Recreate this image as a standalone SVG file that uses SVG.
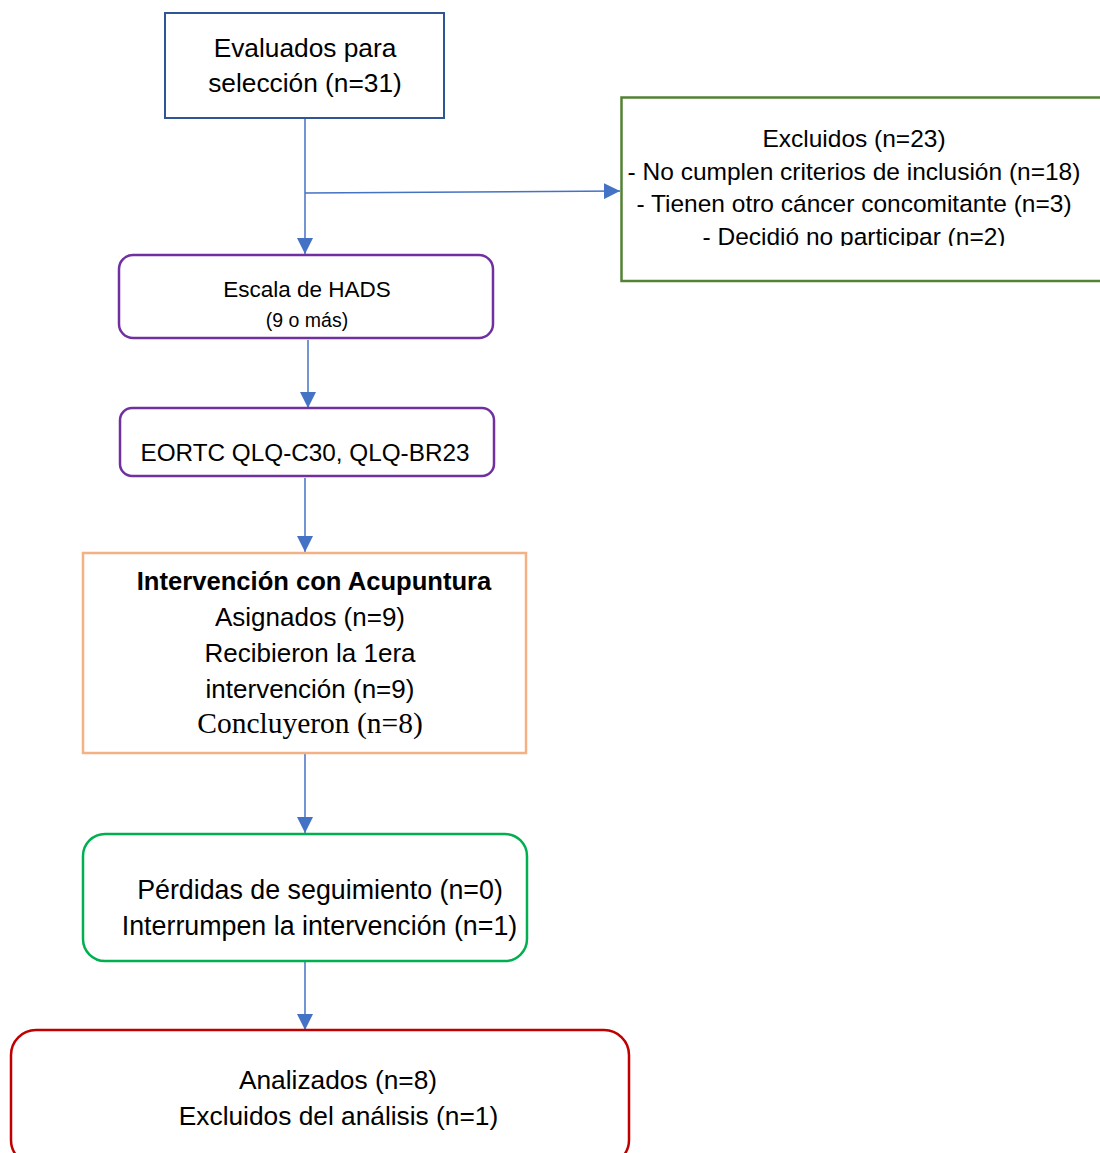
<svg xmlns="http://www.w3.org/2000/svg" width="1100" height="1153" viewBox="0 0 1100 1153">
<style>
.t{font-family:"Liberation Sans",Arial,sans-serif;fill:#000;text-anchor:middle}
.s{font-family:"Liberation Serif","Times New Roman",serif;fill:#000;text-anchor:middle}
.b{font-weight:bold}
.box{fill:#fff}
.c{stroke:#4472C4;stroke-width:1.5;fill:none;marker-end:url(#ah)}
</style>
<defs>
<marker id="ah" markerUnits="userSpaceOnUse" markerWidth="16" markerHeight="16" viewBox="0 0 16 16" refX="16" refY="8" orient="auto">
<path d="M0,0 L16,8 L0,16 Z" fill="#4472C4"/>
</marker>
<clipPath id="exclip"><rect x="600" y="90" width="500" height="156"/></clipPath>
</defs>
<rect width="1100" height="1153" fill="#fff"/>
<g id="connectors">
<path class="c" d="M305,119 L305,254"/>
<path class="c" d="M305,193 L620,191"/>
<path class="c" d="M308,340 L308,408"/>
<path class="c" d="M305,478 L305,552"/>
<path class="c" d="M305,754 L305,833"/>
<path class="c" d="M305,962 L305,1030"/>
</g>
<g id="n1">
<rect class="box" x="165" y="13" width="279" height="105" stroke="#2F5597" stroke-width="2"/>
<text class="t" x="305" y="57" font-size="26.3">Evaluados para</text>
<text class="t" x="305" y="92" font-size="26.3">selección (n=31)</text>
</g>
<g id="n2">
<rect class="box" x="621.5" y="97.5" width="500" height="183.5" stroke="#538135" stroke-width="2.5"/>
<g clip-path="url(#exclip)" font-size="24.5">
<text class="t" x="854" y="147">Excluidos (n=23)</text>
<text class="t" x="854" y="180">- No cumplen criterios de inclusión (n=18)</text>
<text class="t" x="854" y="212">- Tienen otro cáncer concomitante (n=3)</text>
<text class="t" x="854" y="245">- Decidió no participar (n=2)</text>
</g>
</g>
<g id="n3">
<rect class="box" x="119" y="255" width="374" height="83" rx="14" stroke="#7030A0" stroke-width="2.5"/>
<text class="t" x="307" y="297" font-size="22.5">Escala de HADS</text>
<text class="t" x="307" y="327" font-size="19.5">(9 o más)</text>
</g>
<g id="n4">
<rect class="box" x="120" y="408" width="374" height="68" rx="12" stroke="#7030A0" stroke-width="2.5"/>
<text class="t" x="305" y="461" font-size="24.3">EORTC QLQ-C30, QLQ-BR23</text>
</g>
<g id="n5">
<rect class="box" x="83" y="553" width="443" height="200" stroke="#F4B183" stroke-width="2.5"/>
<text class="t b" x="314" y="590" font-size="25.6">Intervención con Acupuntura</text>
<text class="t" x="310" y="626" font-size="26">Asignados (n=9)</text>
<text class="t" x="310" y="662" font-size="26">Recibieron la 1era</text>
<text class="t" x="310" y="698" font-size="26">intervención (n=9)</text>
<text class="s" x="310" y="733" font-size="29.5">Concluyeron (n=8)</text>
</g>
<g id="n6">
<rect class="box" x="83" y="834" width="444" height="127" rx="22" stroke="#00B050" stroke-width="2.5"/>
<text class="t" x="320" y="899" font-size="26.8">Pérdidas de seguimiento (n=0)</text>
<text class="t" x="319.5" y="935" font-size="26.8">Interrumpen la intervención (n=1)</text>
</g>
<g id="n7">
<rect class="box" x="11" y="1030" width="618" height="135" rx="25" stroke="#C00000" stroke-width="2.5"/>
<text class="t" x="338" y="1089" font-size="26.3">Analizados (n=8)</text>
<text class="t" x="338.5" y="1125" font-size="26.3">Excluidos del análisis (n=1)</text>
</g>
</svg>
